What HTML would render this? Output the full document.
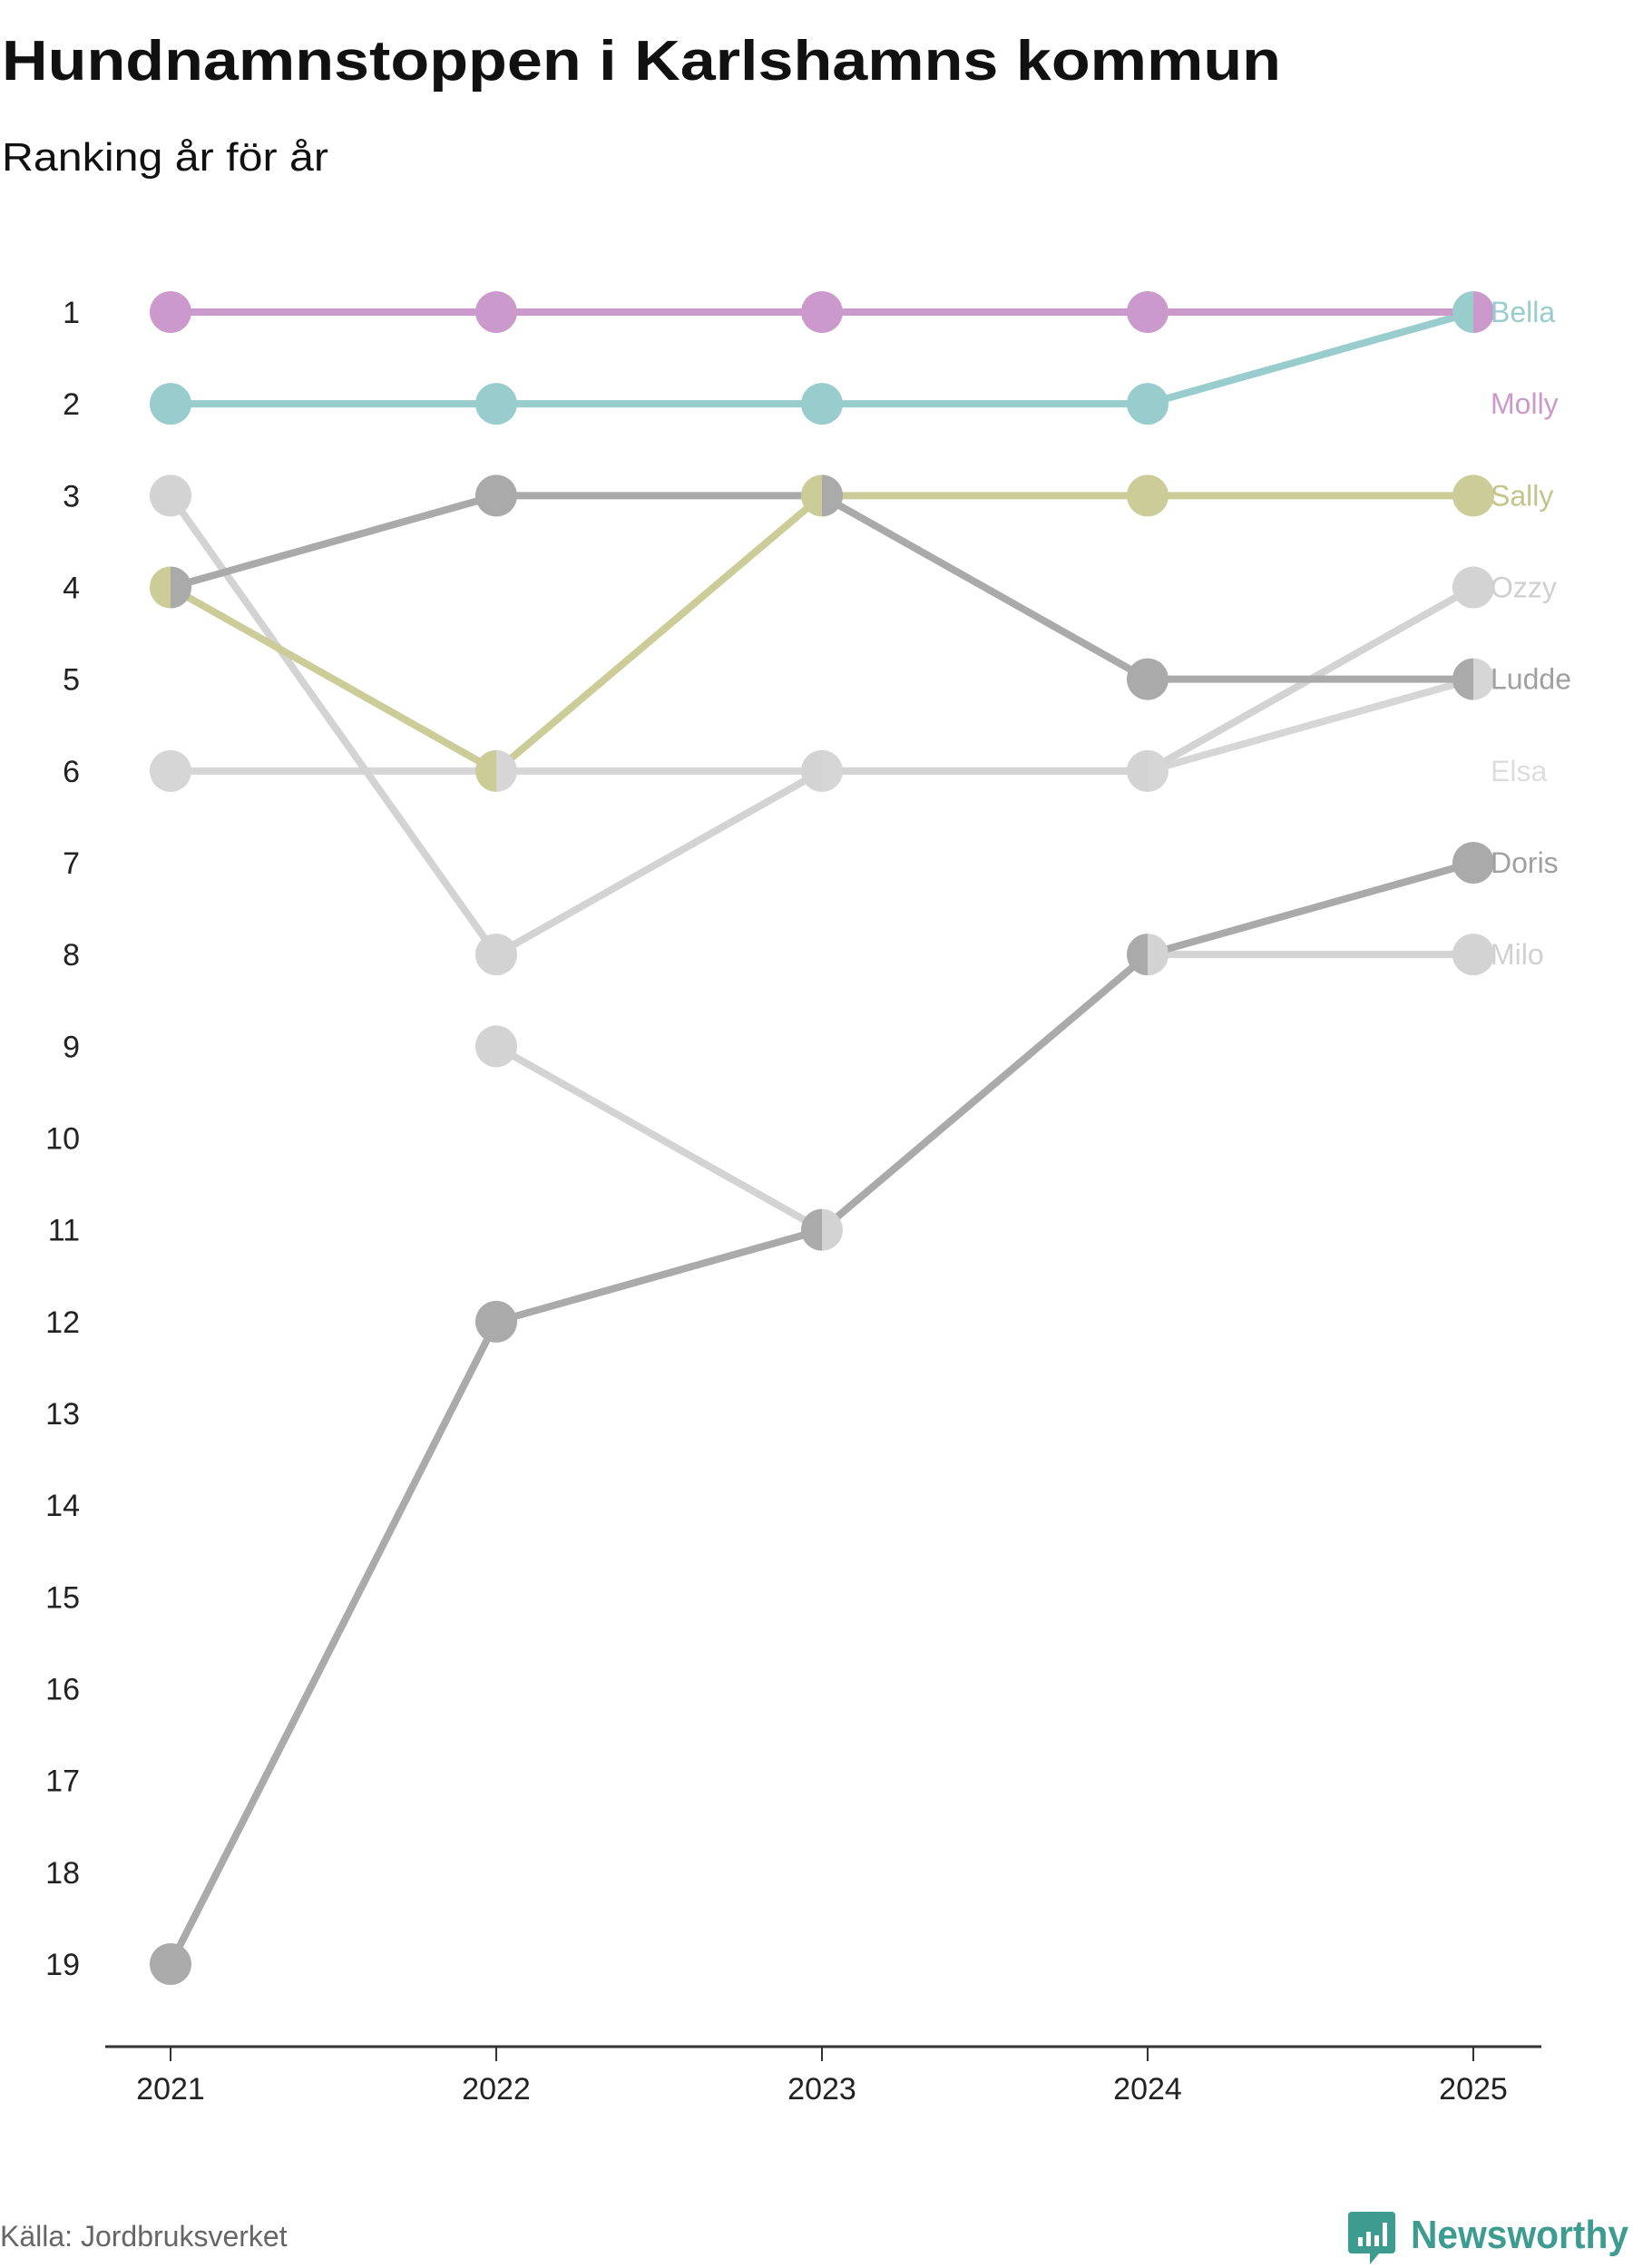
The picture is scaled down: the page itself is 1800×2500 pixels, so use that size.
<!DOCTYPE html>
<html><head><meta charset="utf-8"><style>
html,body{margin:0;padding:0;background:#fff;}
svg{display:block;font-family:"Liberation Sans",sans-serif;}
</style></head><body>
<svg id="chart" width="1800" height="2500" viewBox="0 0 1800 2500" xmlns="http://www.w3.org/2000/svg">
<text x="2" y="88" font-size="62" font-weight="bold" fill="#111" textLength="1410" lengthAdjust="spacingAndGlyphs">Hundnamnstoppen i Karlshamns kommun</text>
<text x="2" y="188" font-size="44" fill="#111" textLength="360" lengthAdjust="spacingAndGlyphs">Ranking år för år</text>
<g id="yticks"></g>
<g id="lines"></g>
<g id="dots"></g>
<g id="labels"></g>
<g id="xaxis">
<line x1="116" y1="2256" x2="1699" y2="2256" stroke="#333" stroke-width="3"/>
</g>
<text x="0" y="2476" font-size="32" fill="#666">Källa: Jordbruksverket</text>
<g>
<path d="M1490 2438 h44 a4 4 0 0 1 4 4 v38 a4 4 0 0 1 -4 4 h-14 l-10 12 v-12 h-20 a4 4 0 0 1 -4 -4 v-38 a4 4 0 0 1 4 -4z" fill="#3d9b90"/>
<rect x="1497" y="2466" width="5" height="10" fill="#fff"/>
<rect x="1506" y="2460" width="5" height="16" fill="#fff"/>
<rect x="1515" y="2464" width="5" height="12" fill="#fff"/>
<rect x="1524" y="2450" width="5" height="26" fill="#fff"/>
<text x="1795" y="2478" text-anchor="end" font-size="44" font-weight="bold" fill="#3d9b90" textLength="240" lengthAdjust="spacingAndGlyphs">Newsworthy</text>
</g>
</svg>
<script>
const years = [2021, 2022, 2023, 2024, 2025];
const seriesNames = ["Elsa", "Ozzy", "Milo", "Doris", "Ludde", "Sally", "Bella", "Molly"];
const elsaRanks = [6, 6, 6, 6, 5];
const ozzyRanks = [3, 8, 6, 6, 4];
const miloRanks = [null, 9, 11, 8, 8];
const dorisRanks = [19, 12, 11, 8, 7];
const luddeRanks = [4, 3, 3, 5, 5];
const sallyRanks = [4, 6, 3, 3, 3];
const bellaRanks = [2, 2, 2, 2, 1];
const mollyRanks = [1, 1, 1, 1, 1];
const labelRanks = [6, 4, 8, 7, 5, 3, 1, 2];
const rankTicks = [1,2,3,4,5,6,7,8,9,10,11,12,13,14,15,16,17,18,19];

const allRanks = [elsaRanks, ozzyRanks, miloRanks, dorisRanks, luddeRanks, sallyRanks, bellaRanks, mollyRanks];
const colors = ["#d6d6d6", "#d3d3d3", "#d3d3d3", "#aaaaaa", "#aaaaaa", "#cccc99", "#99cccc", "#cc99cc"];
const labelColors = ["#dddddd", "#cfcfcf", "#d0d0d0", "#a0a0a0", "#a0a0a0", "#c4c48a", "#99cccc", "#cc99cc"];
const leftPriority = ["Bella", "Sally", "Doris", "Ludde", "Molly", "Milo", "Ozzy", "Elsa"];
const NS = "http://www.w3.org/2000/svg";
const x = i => 188 + i * (1624 - 188) / (years.length - 1);
const y = r => 344 + (r - 1) * (2165 - 344) / 18;
function mk(tag, attrs, parent) { const e = document.createElementNS(NS, tag); for (const k in attrs) e.setAttribute(k, attrs[k]); parent.appendChild(e); return e; }

const yt = document.getElementById('yticks');
rankTicks.forEach(r => {
  const t = mk('text', {x: 88, y: y(r) + 12, 'text-anchor': 'end', 'font-size': 34, fill: '#222'}, yt);
  
  
  t.textContent = r;
});
const xa = document.getElementById('xaxis');
years.forEach((yr, i) => {
  const tk = mk('line', {x1: x(i), x2: x(i), y1: 2256, y2: 2272, stroke: '#333', 'stroke-width': 2}, xa);
  
  
  const t = mk('text', {x: x(i), y: 2314, 'text-anchor': 'middle', 'font-size': 34, fill: '#222'}, xa);
  
  
  t.textContent = yr;
});
const lg = document.getElementById('lines'), dg = document.getElementById('dots'), lb = document.getElementById('labels');
allRanks.forEach((ranks, s) => {
  let d = '';
  ranks.forEach((r, i) => { if (r == null) return; d += (d ? 'L' : 'M') + x(i) + ' ' + y(r) + ' '; });
  const p = mk('path', {d: d, fill: 'none', stroke: colors[s], 'stroke-width': 8}, lg);
  
  
});
const R = 23;
years.forEach((yr, i) => {
  const groups = {};
  allRanks.forEach((ranks, s) => { const r = ranks[i]; if (r == null) return; (groups[r] = groups[r] || []).push(s); });
  Object.keys(groups).forEach(rk => {
    const g = groups[rk].slice().sort((a, b) => leftPriority.indexOf(seriesNames[a]) - leftPriority.indexOf(seriesNames[b]));
    const cx = x(i), cy = y(+rk);
    if (g.length === 1) {
      const c = mk('circle', {cx: cx, cy: cy, r: R, fill: colors[g[0]]}, dg);
      
      
    } else {
      const l = mk('path', {d: `M${cx} ${cy - R} A${R} ${R} 0 0 0 ${cx} ${cy + R} Z`, fill: colors[g[0]]}, dg);
      
      
      const rr = mk('path', {d: `M${cx} ${cy - R} A${R} ${R} 0 0 1 ${cx} ${cy + R} Z`, fill: colors[g[1]]}, dg);
      
      
    }
  });
});
allRanks.forEach((ranks, s) => {
  const t = mk('text', {x: 1643, y: y(labelRanks[s]) + 11, 'font-size': 32, fill: labelColors[s]}, lb);
  
  
  t.textContent = seriesNames[s];
});
</script>
</body></html>
